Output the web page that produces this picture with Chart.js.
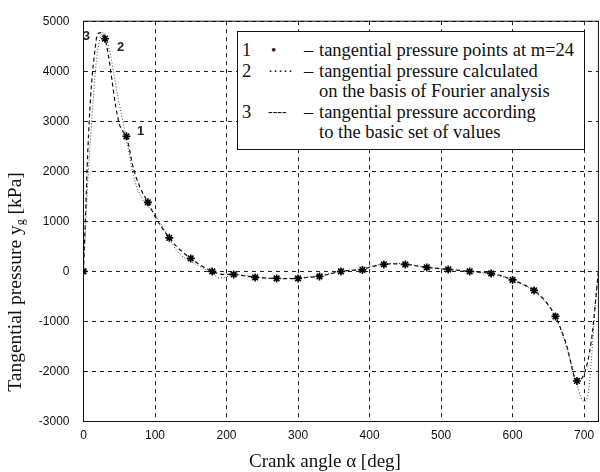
<!DOCTYPE html>
<html>
<head>
<meta charset="utf-8">
<script src="https://cdn.jsdelivr.net/npm/chart.js@4/dist/chart.umd.min.js"></script>
<style>
  html, body { margin: 0; padding: 0; background: #fff; overflow: hidden; width: 600px; height: 472px; }
  #wrap { position: relative; width: 604px; height: 472px; }
  #legend {
    position: absolute; left: 237px; top: 31px; width: 346px; height: 117px;
    border: 1.5px solid #111; background: #fff;
    font-family: "Liberation Serif", serif; font-size: 18.5px; color: #111;
  }
  .row { position: absolute; left: 0; height: 20px; line-height: 20px; width: 100%; white-space: nowrap; }
  .row span { position: absolute; }
  .n { left: 4px; }
  .s { left: 30px; }
  .d { left: 66px; }
  .t { left: 81px; }
  #ytitle {
    position: absolute; left: -135px; top: 271px; width: 300px; height: 22px; line-height: 22px;
    text-align: center; transform: rotate(-90deg);
    font-family: "Liberation Serif", serif; font-size: 19.5px; color: #111; white-space: nowrap;
  }
  #ytitle sub { font-size: 12px; vertical-align: -3px; }
  #xtitle {
    position: absolute; left: 175px; top: 450px; width: 300px; height: 22px; line-height: 22px;
    text-align: center; font-family: "Liberation Serif", serif; font-size: 19px; color: #111;
  }
</style>
</head>
<body>
<div id="wrap">
  <canvas id="chart" width="604" height="472"></canvas>
  <div id="legend">
    <div class="row" style="top:8px"><span class="n">1</span><span class="s" style="left:33px;font-size:15px">•</span><span class="d">–</span><span class="t">tangential pressure points at m=24</span></div>
    <div class="row" style="top:28.5px"><span class="n">2</span><span class="s" style="font-size:15px">·····</span><span class="d">–</span><span class="t">tangential pressure calculated</span></div>
    <div class="row" style="top:49px"><span class="t">on the basis of Fourier analysis</span></div>
    <div class="row" style="top:69.5px"><span class="n">3</span><span class="s" style="font-size:14px">----</span><span class="d">–</span><span class="t">tangential pressure according</span></div>
    <div class="row" style="top:90px"><span class="t">to the basic set of values</span></div>
  </div>
  <div id="ytitle">Tangential pressure y<sub>g</sub> [kPa]</div>
  <div id="xtitle">Crank angle α [deg]</div>
</div>
<script>
// 1 - tangential pressure points at m=24 (every 30 deg)
var pointAngles = [0, 30, 60, 90, 120, 150, 180, 210, 240, 270, 300, 330, 360, 390, 420, 450, 480, 510, 540, 570, 600, 630, 660, 690];
var pointValues = [0, 4650, 2700, 1380, 670, 260, 0, -60, -120, -140, -140, -100, 0, 30, 140, 140, 80, 40, 0, -40, -170, -380, -900, -2190];

// 2 - calculated on the basis of Fourier analysis
var fourierAngles = [0, 3, 6, 10, 14, 18, 23, 28, 33, 38, 43, 48, 55, 60, 70, 80, 90, 100, 110, 120, 130, 140, 150, 160, 170, 180, 190, 200, 210, 225, 240, 255, 270, 285, 300, 315, 330, 345, 360, 375, 390, 405, 420, 435, 450, 465, 480, 495, 510, 525, 540, 555, 570, 585, 600, 615, 630, 645, 660, 675, 690, 695, 700, 705, 710, 715, 720];
var fourierValues = [0, 900, 1800, 2700, 3500, 4200, 4650, 4780, 4600, 4300, 3900, 3500, 3000, 2650, 1900, 1500, 1300, 1150, 900, 650, 420, 280, 200, 120, 40, -40, -130, -110, -60, -80, -110, -130, -140, -140, -130, -110, -80, -40, 0, 30, 60, 110, 150, 160, 150, 120, 80, 60, 40, 20, 0, -20, -50, -100, -180, -270, -400, -600, -920, -1500, -2250, -2500, -2600, -2500, -1800, -800, 0];

// 3 - according to the basic set of values
var basicAngles = [0, 3, 6, 10, 15, 20, 25, 30, 35, 40, 45, 50, 55, 60, 70, 80, 90, 100, 110, 120, 130, 140, 150, 160, 170, 180, 190, 200, 210, 220, 240, 255, 270, 285, 300, 315, 330, 345, 360, 375, 390, 405, 420, 435, 450, 465, 480, 495, 510, 525, 540, 555, 570, 585, 600, 615, 630, 645, 660, 675, 690, 700, 710, 720];
var basicValues = [0, 1200, 2400, 3500, 4300, 4750, 4770, 4650, 4300, 3800, 3300, 2950, 2800, 2700, 2050, 1650, 1380, 1100, 870, 670, 500, 370, 260, 160, 70, 0, -50, -60, -60, -80, -120, -135, -140, -145, -140, -120, -100, -50, 0, 20, 40, 100, 140, 150, 140, 110, 80, 60, 40, 20, 0, -15, -40, -90, -170, -260, -380, -580, -900, -1450, -2190, -2050, -1400, 0];

function toXY(xs, ys) {
    return xs.map(function (x, i) { return { x: x, y: ys[i] }; });
}

// small "1", "2", "3" marks next to the curves
var curveTags = [
    { text: '3', x: 4, y: 4700 },
    { text: '2', x: 52, y: 4480 },
    { text: '1', x: 80, y: 2800 }
];

var framePlugin = {
    id: 'frame',
    afterDraw: function (chart) {
        var ctx = chart.ctx, a = chart.chartArea;
        ctx.save();
        ctx.strokeStyle = '#111';
        ctx.lineWidth = 1;
        ctx.strokeRect(a.left, a.top, a.right - a.left, a.bottom - a.top);
        ctx.fillStyle = '#222';
        ctx.font = 'bold 13px "Liberation Sans", Arial, sans-serif';
        ctx.textAlign = 'center';
        ctx.textBaseline = 'middle';
        curveTags.forEach(function (t) {
            ctx.fillText(t.text, chart.scales.x.getPixelForValue(t.x), chart.scales.y.getPixelForValue(t.y));
        });
        ctx.restore();
    }
};

var tickFont = { family: '"Liberation Sans", Arial, sans-serif', size: 12 };

var ctx = document.getElementById('chart');
var chart = new Chart(ctx, {
    type: 'line',
    data: {
        datasets: [
            {
                label: 'points m=24',
                data: toXY(pointAngles, pointValues),
                showLine: false,
                pointStyle: 'star',
                pointRadius: 4,
                pointBorderWidth: 1.6,
                borderColor: '#000',
                backgroundColor: '#000',
                order: 0
            },
            {
                label: 'Fourier',
                data: toXY(fourierAngles, fourierValues),
                borderColor: '#444',
                borderWidth: 1,
                borderDash: [1, 2],
                pointRadius: 0,
                fill: false,
                cubicInterpolationMode: 'monotone',
                order: 2
            },
            {
                label: 'basic',
                data: toXY(basicAngles, basicValues),
                borderColor: '#111',
                borderWidth: 1.2,
                borderDash: [4, 3],
                pointRadius: 0,
                fill: false,
                cubicInterpolationMode: 'monotone',
                order: 1
            }
        ]
    },
    options: {
        responsive: false,
        animation: false,
        layout: { padding: { top: 15, right: 3.5, left: 0, bottom: 0 } },
        plugins: {
            legend: { display: false },
            tooltip: { enabled: false }
        },
        scales: {
            x: {
                type: 'linear',
                min: 0,
                max: 720,
                afterFit: function (s) { s.height = 50.5; },
                ticks: {
                    stepSize: 100,
                    includeBounds: false,
                    padding: 7,
                    color: '#111',
                    font: tickFont,
                    callback: function (v) { return String(v); }
                },
                grid: { color: '#222', lineWidth: 1, drawTicks: false },
                border: { display: true, color: '#111', width: 1, dash: [4, 4] }
            },
            y: {
                min: -3000,
                max: 5000,
                afterFit: function (s) { s.width = 83.5; },
                ticks: {
                    stepSize: 1000,
                    padding: 14,
                    color: '#111',
                    font: tickFont,
                    callback: function (v) { return String(v); }
                },
                grid: { color: '#222', lineWidth: 1, drawTicks: false },
                border: { display: true, color: '#111', width: 1, dash: [4, 4] }
            }
        }
    },
    plugins: [framePlugin]
});
</script>
</body>
</html>
